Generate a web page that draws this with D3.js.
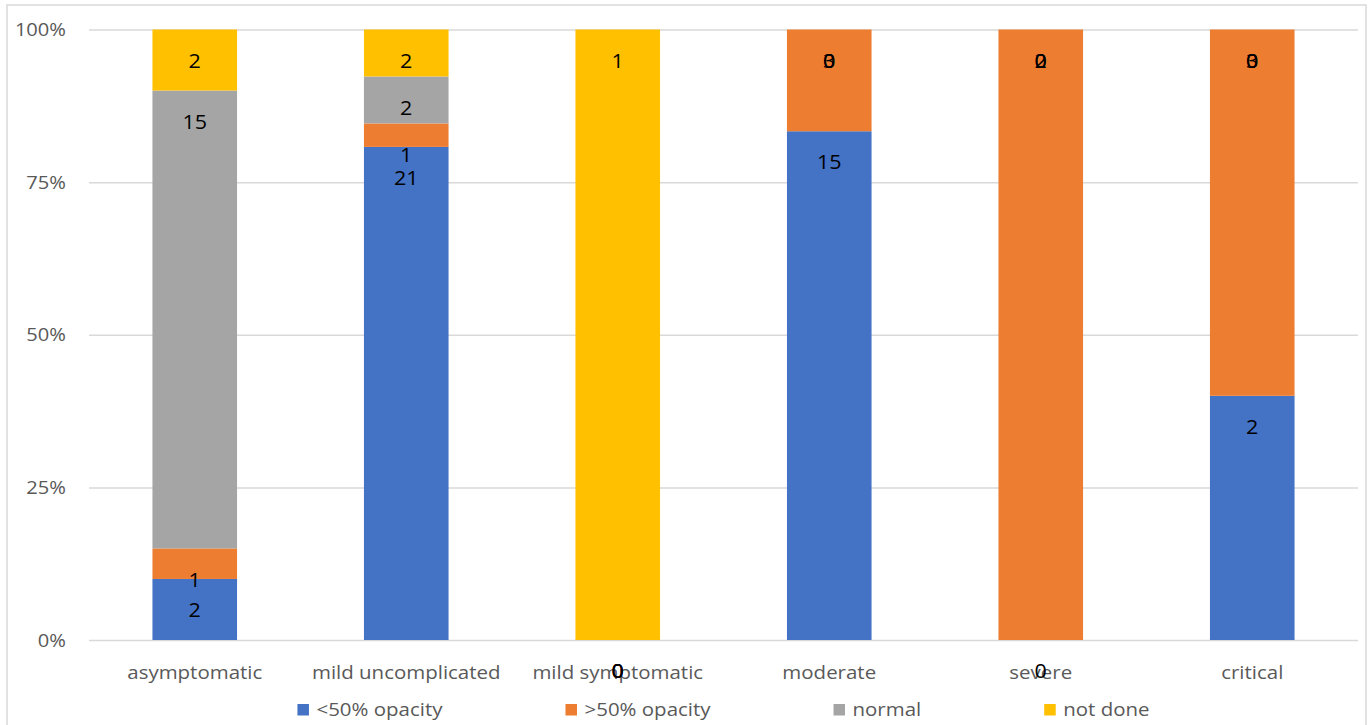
<!DOCTYPE html>
<html>
<head>
<meta charset="utf-8">
<script src="https://cdn.jsdelivr.net/npm/d3@7"></script>
<style>
  body { margin: 0; background: #fff; }
  svg { display: block; }
  text { font-family: "Open Sans", "Segoe UI", sans-serif; }
</style>
</head>
<body>
<svg id="chart" width="1368" height="725"></svg>
<script>
// Patient counts by clinical category and chest imaging finding
const categories = ["asymptomatic", "mild uncomplicated", "mild symptomatic", "moderate", "severe", "critical"];
const seriesNames = ["<50% opacity", ">50% opacity", "normal", "not done"];
const below50 = [2, 21, 0, 15, 0, 2];
const above50 = [1, 1, 0, 3, 2, 3];
const normal = [15, 2, 0, 0, 0, 0];
const notDone = [2, 2, 1, 0, 0, 0];
const seriesColors = ["#4472C4", "#ED7D31", "#A5A5A5", "#FFC000"];
const yTickValues = [0, 0.25, 0.5, 0.75, 1];

const seriesValues = [below50, above50, normal, notDone];
const rows = categories.map((c, i) => {
  const r = { category: c };
  seriesNames.forEach((s, k) => { r[s] = seriesValues[k][i]; });
  return r;
});

const svg = d3.select("#chart");
const plot = { left: 89, right: 1358, top: 29.5, bottom: 640 };
const textScale = 1.17;   // horizontal stretch of axis and legend text
const labelScale = 1.05;

// outer chart frame
svg.append("rect")
  .attr("x", 7).attr("y", 5)
  .attr("width", 1359).attr("height", 730)
  .attr("fill", "#fff")
  .attr("stroke", "#d9d9d9").attr("stroke-width", 1.5);

const x = d3.scaleBand()
  .domain(categories)
  .range([plot.left, plot.right])
  .paddingInner(0.6)
  .paddingOuter(0.3);

const y = d3.scaleLinear().domain([0, 1]).range([plot.bottom, plot.top]);

// value axis with gridlines
const yAxis = svg.append("g")
  .attr("transform", `translate(${plot.left},0)`)
  .call(d3.axisLeft(y)
    .tickValues(yTickValues)
    .tickSize(-(plot.right - plot.left))
    .tickFormat(d3.format(".0%")));
yAxis.select(".domain").remove();
yAxis.selectAll(".tick line").attr("stroke", "#d9d9d9").attr("stroke-width", 1.5);
yAxis.selectAll(".tick text")
  .attr("x", 0).attr("dy", "0.35em")
  .attr("transform", `translate(-23,0) scale(1.15,1)`)
  .attr("fill", "#595959")
  .attr("font-size", 17.5)
  .attr("text-anchor", "end");

// stacked 100% bars
const stack = d3.stack().keys(seriesNames).offset(d3.stackOffsetExpand);
const layers = stack(rows);

const layerG = svg.append("g").selectAll("g")
  .data(layers)
  .join("g")
  .attr("fill", (d, i) => seriesColors[i]);

layerG.selectAll("rect")
  .data(d => d)
  .join("rect")
  .attr("x", d => x(d.data.category))
  .attr("width", x.bandwidth())
  .attr("y", d => y(d[1]))
  .attr("height", d => Math.max(0, y(d[0]) - y(d[1])));

// category axis
const xAxis = svg.append("g")
  .attr("transform", `translate(0,${plot.bottom})`)
  .call(d3.axisBottom(x).tickSize(0));
xAxis.select(".domain").remove();
xAxis.selectAll(".tick text")
  .attr("y", 0).attr("dy", 0)
  .attr("transform", `translate(0,39) scale(${textScale},1)`)
  .attr("fill", "#595959")
  .attr("font-size", 17.5);

// data labels, inside end of each segment
const labelG = svg.append("g");
layers.forEach((layer) => {
  labelG.selectAll(null)
    .data(layer)
    .join("text")
    .attr("transform", d =>
      `translate(${x(d.data.category) + x.bandwidth() / 2},${y(d[1]) + 31}) scale(${labelScale},1)`)
    .attr("dy", "0.35em")
    .attr("text-anchor", "middle")
    .attr("font-size", 20.5)
    .attr("fill", "#000")
    .text(d => d.data[layer.key]);
});

// legend
const legend = svg.append("g");
const items = legend.selectAll("g")
  .data(seriesNames)
  .join("g");
items.append("rect")
  .attr("width", 11.5).attr("height", 11.5)
  .attr("y", -6)
  .attr("fill", (d, i) => seriesColors[i]);
items.append("text")
  .attr("transform", `translate(19,0) scale(${textScale},1)`)
  .attr("dy", "0.35em")
  .attr("fill", "#595959")
  .attr("font-size", 17.5)
  .text(d => d);

const widths = [];
items.each(function () {
  const t = d3.select(this).select("text").node();
  widths.push(19 + t.getComputedTextLength() * textScale);
});
const gap = 123;
const total = d3.sum(widths) + gap * (widths.length - 1);
let cx = (plot.left + plot.right) / 2 - total / 2;
items.attr("transform", (d, i) => {
  const pos = cx;
  cx += widths[i] + gap;
  return `translate(${pos},710)`;
});
</script>
</body>
</html>
